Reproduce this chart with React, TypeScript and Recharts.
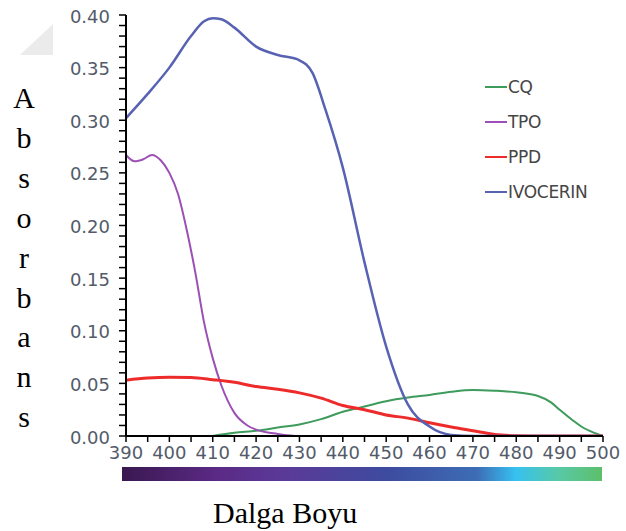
import React from "react";
import { LineChart, Line, XAxis, YAxis, Legend } from "recharts";

// ---- data ----
const cqWavelength = [410, 415, 420, 425, 430, 435, 440, 445, 450, 455, 460, 465, 470, 475, 480, 485, 488, 490, 493, 495, 498, 500];
const cqAbs = [0, 0.003, 0.005, 0.008, 0.011, 0.016, 0.023, 0.028, 0.033, 0.0365, 0.039, 0.042, 0.0437, 0.043, 0.0415, 0.038, 0.032, 0.025, 0.015, 0.009, 0.003, 0];

const tpoWavelength = [390, 392, 394, 396, 398, 400, 402, 404, 406, 408, 410, 412, 415, 418, 420, 425, 430, 440, 450, 460, 470, 480, 490, 500];
const tpoAbs = [0.267, 0.261, 0.263, 0.267, 0.262, 0.25, 0.23, 0.196, 0.155, 0.108, 0.074, 0.048, 0.022, 0.01, 0.006, 0.002, 0, 0, 0, 0, 0, 0, 0, 0];

const ppdWavelength = [390, 395, 400, 405, 410, 415, 420, 425, 430, 435, 440, 445, 450, 455, 460, 465, 470, 475, 480, 485, 490, 500];
const ppdAbs = [0.053, 0.055, 0.0558, 0.0555, 0.0535, 0.051, 0.047, 0.0444, 0.041, 0.036, 0.029, 0.025, 0.02, 0.017, 0.0125, 0.0085, 0.005, 0.0015, 0.0003, 0, 0, 0];

const ivoWavelength = [390, 395, 400, 405, 408, 410, 412, 415, 420, 425, 430, 433, 436, 440, 445, 450, 455, 460, 465, 470, 480, 490, 500];
const ivoAbs = [0.302, 0.325, 0.35, 0.38, 0.394, 0.397, 0.396, 0.388, 0.37, 0.362, 0.357, 0.345, 0.31, 0.255, 0.165, 0.085, 0.03, 0.009, 0.001, 0, 0, 0, 0];

const xTicks = [390, 395, 400, 405, 410, 415, 420, 425, 430, 435, 440, 445, 450, 455, 460, 465, 470, 475, 480, 485, 490, 495, 500];
const yTicks = [0, 0.01, 0.02, 0.03, 0.04, 0.05, 0.06, 0.07, 0.08, 0.09, 0.1, 0.11, 0.12, 0.13, 0.14, 0.15, 0.16, 0.17, 0.18, 0.19, 0.2, 0.21, 0.22, 0.23, 0.24, 0.25, 0.26, 0.27, 0.28, 0.29, 0.3, 0.31, 0.32, 0.33, 0.34, 0.35, 0.36, 0.37, 0.38, 0.39, 0.4];

const yTitleLetters = ["A", "b", "s", "o", "r", "b", "a", "n", "s"];
const xTitle = "Dalga Boyu";

const series = [
  { name: "CQ", wl: cqWavelength, abs: cqAbs, color: "#3d9b5c", width: 2 },
  { name: "TPO", wl: tpoWavelength, abs: tpoAbs, color: "#9c4fb4", width: 2 },
  { name: "PPD", wl: ppdWavelength, abs: ppdAbs, color: "#ee2b2b", width: 3 },
  { name: "IVOCERIN", wl: ivoWavelength, abs: ivoAbs, color: "#5862b2", width: 2.5 },
];

const tickFont = "'DejaVu Sans', sans-serif";
const tickColor = "#535b6a";

const YTick = (props: any) => {
  const { x, y, payload } = props;
  const v = payload.value;
  if (Math.round(v * 100) % 5 !== 0) return <g />;
  return (
    <text x={x} y={y} dy="0.42em" textAnchor="end" fontFamily={tickFont} fontSize={18} fill={tickColor}>
      {v.toFixed(2)}
    </text>
  );
};

const XTick = (props: any) => {
  const { x, y, payload } = props;
  const v = payload.value;
  if (v % 10 !== 0) return <g />;
  return (
    <text x={x} y={y} dy="0.72em" textAnchor="middle" fontFamily={tickFont} fontSize={18} fill={tickColor}>
      {v}
    </text>
  );
};

const renderLegend = () => {
  return (
    <svg width={140} height={140} style={{ overflow: "visible", display: "block" }}>
      {series.map((s, i) => (
        <g key={s.name}>
          <line x1={2} x2={24} y1={12 + i * 35} y2={12 + i * 35} stroke={s.color} strokeWidth={2} />
          <text x={25} y={12 + i * 35} dy="0.36em" fontFamily={tickFont} fontSize={17} fill="#454545" letterSpacing={-0.3}>
            {s.name}
          </text>
        </g>
      ))}
    </svg>
  );
};

export default function App() {
  return (
    <div style={{ position: "absolute", left: 0, top: 0, width: 626, height: 531, background: "#fff" }}>
      <svg width={626} height={531} style={{ position: "absolute", left: 0, top: 0 }}>
        <defs>
          <linearGradient id="spec" x1="0" y1="0" x2="1" y2="0">
            <stop offset="0%" stopColor="#3a1850" />
            <stop offset="20%" stopColor="#5b2a86" />
            <stop offset="35%" stopColor="#5a3b99" />
            <stop offset="55%" stopColor="#3d4b9e" />
            <stop offset="74%" stopColor="#3d6db6" />
            <stop offset="82%" stopColor="#36c1f0" />
            <stop offset="91%" stopColor="#58c9a6" />
            <stop offset="100%" stopColor="#5dbf6b" />
          </linearGradient>
        </defs>
        <polygon points="20,55 53,24 53,55" fill="#ebebeb" />
        <rect x={122} y={467} width={480} height={14} fill="url(#spec)" />
        {yTitleLetters.map((c, i) => (
          <text key={i} x={24} y={108 + i * 39.9} textAnchor="middle" fontFamily="'Liberation Serif', 'Times New Roman', serif" fontSize={30} fill="#000">
            {c}
          </text>
        ))}
        <text x={213} y={523} fontFamily="'Liberation Serif', 'Times New Roman', serif" fontSize={30} fill="#000">
          {xTitle}
        </text>
      </svg>
      <div style={{ position: "absolute", left: 0, top: 0 }}>
        <LineChart width={626} height={531} margin={{ top: 15, right: 23, left: 66, bottom: 65 }}>
          <XAxis
            type="number"
            dataKey="wl"
            domain={[390, 500]}
            ticks={xTicks}
            interval={0}
            allowDataOverflow
            tick={<XTick />}
            tickSize={6}
            tickMargin={4}
            height={30}
            axisLine={{ stroke: "#000", strokeWidth: 2 }}
            tickLine={{ stroke: "#000", strokeWidth: 1.5 }}
          />
          <YAxis
            type="number"
            domain={[0, 0.4]}
            ticks={yTicks}
            interval={0}
            allowDataOverflow
            tick={<YTick />}
            tickSize={7}
            tickMargin={9}
            width={60}
            axisLine={{ stroke: "#000", strokeWidth: 2 }}
            tickLine={{ stroke: "#000", strokeWidth: 1.5 }}
          />
          <Legend
            layout="vertical"
            align="center"
            verticalAlign="middle"
            content={renderLegend}
            wrapperStyle={{ position: "absolute", left: 483, top: 75, width: 140, height: 140 }}
          />
          {series.map((s) => (
            <Line
              key={s.name}
              name={s.name}
              data={s.wl.map((w, i) => ({ wl: w, a: s.abs[i] }))}
              dataKey="a"
              type="monotone"
              stroke={s.color}
              strokeWidth={s.width}
              dot={false}
              activeDot={false}
              isAnimationActive={false}
            />
          ))}
        </LineChart>
      </div>
    </div>
  );
}
